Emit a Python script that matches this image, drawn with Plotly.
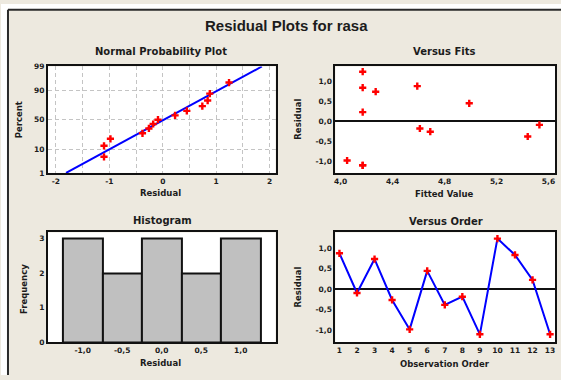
import plotly.graph_objects as go
from statistics import NormalDist, mean, stdev

# ---- data -------------------------------------------------------------
observation = list(range(1, 14))
residuals = [0.88, -0.09, 0.74, -0.26, -0.98, 0.45, -0.38, -0.18, -1.10, 1.24, 0.84, 0.23, -1.10]
fitted = [4.59, 5.53, 4.27, 4.69, 4.05, 4.99, 5.44, 4.61, 4.17, 4.17, 4.17, 4.17, 4.17]

percent_ticks = [1, 10, 50, 90, 99]
npp_x_ticks = [-2, -1, 0, 1, 2]
npp_x_text = ["-2", "-1", "0", "1", "2"]
resid_ticks = [-1.0, -0.5, 0.0, 0.5, 1.0]
resid_text = ["-1,0", "-0,5", "0,0", "0,5", "1,0"]
fit_ticks = [4.0, 4.4, 4.8, 5.2, 5.6]
fit_text = ["4,0", "4,4", "4,8", "5,2", "5,6"]
freq_ticks = [0, 1, 2, 3]

# ---- derived values for the normal probability plot --------------------
nd = NormalDist()
n = len(residuals)
sorted_res = sorted(residuals)
plot_pos = [(i - 0.3) / (n + 0.4) for i in range(1, n + 1)]
z_pts = [nd.inv_cdf(p) for p in plot_pos]
mu, sd = mean(residuals), stdev(residuals)
z_lo, z_hi = nd.inv_cdf(0.01), nd.inv_cdf(0.99)

W, H = 561, 380
def fx(p):
    return p / W
def fy(p):
    return 1 - p / H

FONT = "DejaVu Sans"
INK = "#1c1c1c"
BG = "#EDE9DF"
RED = "#FF0000"
BLUE = "#0000FF"
GRID = "#C4C4C4"
DASH = "4px,3px"

marker = dict(symbol="cross", size=6, color=RED)

fig = go.Figure()

# Normal probability plot
fig.add_trace(go.Scatter(x=[mu + sd * z_lo, mu + sd * z_hi], y=[z_lo, z_hi], mode="lines",
                         line=dict(color=BLUE, width=2), xaxis="x", yaxis="y"))
fig.add_trace(go.Scatter(x=sorted_res, y=z_pts, mode="markers", marker=marker,
                         xaxis="x", yaxis="y"))

# Versus fits
fig.add_trace(go.Scatter(x=fitted, y=residuals, mode="markers", marker=marker,
                         xaxis="x2", yaxis="y2"))

# Histogram
fig.add_trace(go.Histogram(x=residuals, xbins=dict(start=-1.25, end=1.25, size=0.5),
                           marker=dict(color="#C0C0C0", line=dict(color="#111111", width=2)),
                           xaxis="x3", yaxis="y3"))

# Versus order
fig.add_trace(go.Scatter(x=observation, y=residuals, mode="lines+markers",
                         line=dict(color=BLUE, width=2), marker=marker,
                         xaxis="x4", yaxis="y4"))

tickfont = dict(family=FONT, size=7.5, color=INK, weight="bold")
frame = dict(showline=True, mirror=True, linecolor="#111111", linewidth=2,
             ticks="", tickfont=tickfont, zeroline=False, showgrid=False, fixedrange=True)

left_dom = [fx(47), fx(275)]
right_dom = [fx(335), fx(555)]
top_dom = [fy(173), fy(64)]
bot_dom = [fy(346.7), fy(234)]

fig.update_layout(
    width=W, height=H,
    margin=dict(l=0, r=0, t=0, b=0),
    paper_bgcolor=BG, plot_bgcolor="white",
    showlegend=False, bargap=0,
    xaxis=dict(frame, domain=left_dom, anchor="y", range=[-2.15, 2.11],
               tickmode="array", tickvals=npp_x_ticks, ticktext=npp_x_text,
               showgrid=True, gridcolor=GRID, griddash=DASH, gridwidth=1,
               minor=dict(dtick=0.5, tick0=0, showgrid=True, gridcolor=GRID,
                          griddash=DASH, gridwidth=1)),
    yaxis=dict(frame, domain=top_dom, anchor="x", range=[z_lo, z_hi],
               tickmode="array", tickvals=[nd.inv_cdf(p / 100) for p in percent_ticks],
               ticktext=[str(p) for p in percent_ticks],
               showgrid=True, gridcolor=GRID, griddash=DASH, gridwidth=1),
    xaxis2=dict(frame, domain=right_dom, anchor="y2", range=[3.96, 5.65],
                tickmode="array", tickvals=fit_ticks, ticktext=fit_text),
    yaxis2=dict(frame, domain=top_dom, anchor="x2", range=[-1.29, 1.37],
                tickmode="array", tickvals=resid_ticks, ticktext=resid_text,
                zeroline=True, zerolinecolor="#111111", zerolinewidth=1.5),
    xaxis3=dict(frame, domain=left_dom, anchor="y3", range=[-1.44, 1.44],
                tickmode="array", tickvals=resid_ticks, ticktext=resid_text),
    yaxis3=dict(frame, domain=bot_dom, anchor="x3", range=[0, 3.17],
                tickmode="array", tickvals=freq_ticks),
    xaxis4=dict(frame, domain=right_dom, anchor="y4", range=[0.77, 13.28],
                tickmode="array", tickvals=observation),
    yaxis4=dict(frame, domain=bot_dom, anchor="x4", range=[-1.30, 1.39],
                tickmode="array", tickvals=resid_ticks, ticktext=resid_text,
                zeroline=True, zerolinecolor="#111111", zerolinewidth=1.5),
)

# white margin outside the window frame, and the frame itself
fig.add_shape(type="rect", xref="paper", yref="paper", x0=0, x1=fx(7), y0=0, y1=1,
              fillcolor="white", line=dict(width=0), layer="below")
fig.add_shape(type="rect", xref="paper", yref="paper", x0=0, x1=1, y0=fy(6), y1=1,
              fillcolor="white", line=dict(width=0), layer="below")
fig.add_shape(type="line", xref="paper", yref="paper", x0=fx(7), x1=fx(7), y0=0, y1=fy(6),
              line=dict(color="#2a2a2a", width=2))
fig.add_shape(type="line", xref="paper", yref="paper", x0=fx(7), x1=1, y0=fy(6), y1=fy(6),
              line=dict(color="#2a2a2a", width=2))

def label(text, x, y, size, angle=0, family=FONT):
    fig.add_annotation(text=text, x=fx(x), y=fy(y), xref="paper", yref="paper",
                       showarrow=False, xanchor="center", yanchor="middle", textangle=angle,
                       font=dict(family=family, size=size, color=INK, weight="bold"))

label("Residual Plots for rasa", 286, 22, 15, family="Liberation Sans")
label("Normal Probability Plot", 160, 49, 10)
label("Versus Fits", 444, 49, 10)
label("Histogram", 162, 222, 10)
label("Versus Order", 446, 223, 10)
label("Residual", 160, 194, 8.5)
label("Fitted Value", 444, 195, 8.5)
label("Residual", 160, 368, 8.5)
label("Observation Order", 445, 369, 8.5)
label("Percent", 18, 118, 8.5, angle=-90)
label("Residual", 298, 118, 8.5, angle=-90)
label("Frequency", 23, 292, 8.5, angle=-90)
label("Residual", 298, 290, 8.5, angle=-90)

fig.write_html("out.html")
